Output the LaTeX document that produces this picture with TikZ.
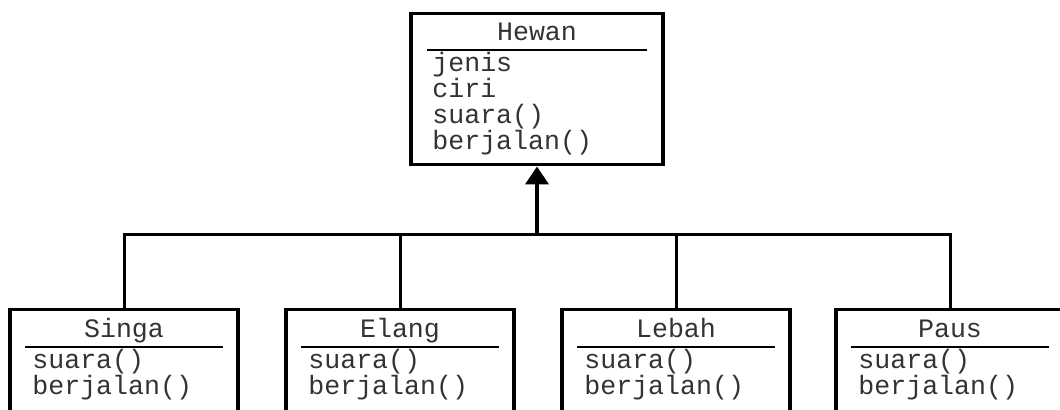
\documentclass[tikz,border=0pt]{standalone}
\usepackage{fontspec}
\setmonofont{Liberation Mono}
\usetikzlibrary{arrows.meta}
\tikzset{basic/.style={draw,line width=1.75pt,inner sep=0pt}}
\tikzset{classbox/.style={basic,rectangle,anchor=north}}
\def\umlfont{\ttfamily\fontsize{13.3}{13.3}\selectfont}

\begin{document}
\begin{tikzpicture}[x=0.5pt,y=-0.5pt,draw=black]
    \tikzstyle{title}=[inner sep=0pt,anchor=base,font=\umlfont,text=black!80]
    \tikzstyle{member}=[inner sep=0pt,anchor=base west,font=\umlfont,text=black!80]
    \tikzstyle{sep}=[line width=1pt]
    \tikzstyle{link}=[line width=1.5pt]

    \useasboundingbox (0,0) rectangle (1060,410);

    % Draw the parent class
    \node[classbox,minimum width=126pt,minimum height=75.5pt] (Hewan) at (537,12) {};
    \node[title] (Hewan-t) at (537,41) {Hewan};
    \draw[sep] (427,50) -- (647,50);
    \foreach \txt [count=\i] in {jenis,ciri,suara(),berjalan()}
        \node[member] (Hewan-\i) at (432,46+26*\i) {\txt};

    % Draw the child classes
    \foreach \name / \x in {Singa/124,Elang/400,Lebah/676,Paus/950}
    {
        \node[classbox,minimum width=114pt,minimum height=60pt] (\name) at (\x,308) {};
        \node[title] (\name-t) at (\x,338) {\name};
        \draw[sep] (\x-99,347) -- (\x+99,347);
        \node[member] (\name-1) at (\x-92,369) {suara()};
        \node[member] (\name-2) at (\x-92,395) {berjalan()};
    }

    % Connect every child class to the parent class
    \coordinate (J) at (537,235);
    \foreach \name in {Singa,Elang,Lebah,Paus}
        \draw[link] (\name.north) |- (J);
    \draw[line width=2pt,-{Triangle[length=9pt,width=11.5pt]}] (J) -- (Hewan.south);
\end{tikzpicture}
\end{document}
